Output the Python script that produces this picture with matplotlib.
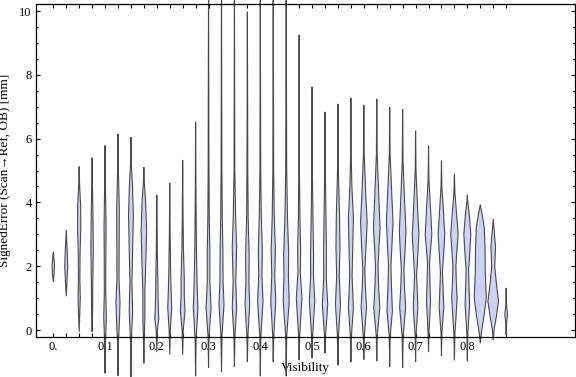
import matplotlib
matplotlib.use("Agg")
import matplotlib.pyplot as plt
import numpy as np

plt.rcParams['font.family'] = ['Liberation Serif', 'DejaVu Serif']

# Violin positions along the Visibility axis (one every 0.025)
positions = [0.025 * i for i in range(36)]

# Lowest / highest value of each violin (SignedError, mm)
lows = [1.52, 1.07, -0.05, -0.05, -1.35, -1.43, -1.47, -1.04, -0.68, -0.76,
        -0.77, -1.44, -1.18, -1.30, -1.15, -1.00, -1.44, -1.00, -1.44, -0.94,
        -0.88, -0.72, -1.10, -1.00, -0.92, -0.97, -1.15, -1.18, -0.99, -0.68,
        -0.81, -0.94, -0.97, -0.41, -0.31, -0.16]
highs = [2.45, 3.13, 5.12, 5.40, 5.78, 6.14, 6.04, 5.10, 4.23, 4.60,
         5.32, 6.52, 11.0, 11.0, 11.0, 9.97, 11.0, 11.0, 11.0, 9.25,
         7.62, 6.83, 7.08, 7.27, 7.05, 7.24, 6.98, 6.92, 6.24, 5.77,
         5.30, 4.89, 4.23, 3.92, 3.47, 1.31]

# Density profile of each violin: (value, relative density)
profiles = [
    [(1.75, 0.8), (2.0, 1.2), (2.2, 0.8)],
    [(1.4, 0.6), (2.0, 1.5), (2.5, 0.9)],
    [(0.5, 0.6), (1.0, 1.1), (1.6, 0.7), (2.4, 0.9), (3.2, 1.6), (3.9, 1.5), (4.5, 0.5)],
    [(0.6, 0.5), (1.5, 0.7), (2.6, 1.2), (3.5, 0.9), (4.5, 0.4)],
    [(-0.5, 0.3), (0.4, 1.3), (1.2, 0.7), (2.3, 0.8), (3.3, 1.0), (4.5, 0.4)],
    [(-0.4, 0.4), (0.4, 1.6), (0.9, 2.0), (1.6, 1.0), (2.8, 1.2), (3.8, 1.3), (5.0, 0.4)],
    [(-0.4, 0.4), (0.6, 1.7), (1.5, 1.0), (2.5, 1.7), (3.6, 2.4), (4.5, 1.6), (5.2, 0.4)],
    [(-0.3, 0.4), (0.4, 1.0), (1.2, 1.0), (2.2, 2.0), (3.1, 2.7), (4.0, 1.8), (4.6, 0.5)],
    [(0.0, 0.6), (0.35, 2.0), (0.8, 1.4), (1.4, 1.1), (2.5, 0.5), (3.5, 0.3)],
    [(0.0, 0.6), (0.7, 2.0), (1.2, 1.4), (2.0, 0.8), (3.0, 0.4)],
    [(0.0, 0.6), (0.6, 2.3), (1.1, 1.6), (1.6, 1.6), (2.5, 0.8), (3.5, 0.4)],
    [(-0.3, 0.5), (0.7, 2.3), (1.3, 1.6), (2.2, 1.0), (3.2, 0.6), (4.5, 0.3)],
    [(-0.2, 0.5), (0.7, 2.5), (1.5, 1.3), (2.5, 1.3), (3.5, 0.7), (5.0, 0.4)],
    [(-0.2, 0.5), (0.8, 2.5), (1.5, 1.6), (2.5, 1.4), (3.5, 0.8), (5.0, 0.4)],
    [(-0.2, 0.5), (0.7, 2.2), (1.5, 1.3), (2.6, 2.2), (3.5, 1.2), (5.0, 0.4)],
    [(-0.2, 0.5), (0.8, 2.3), (1.5, 1.5), (2.3, 1.8), (3.5, 0.8), (5.0, 0.4)],
    [(-0.2, 0.5), (0.9, 2.7), (1.7, 1.6), (2.5, 2.0), (3.6, 1.0), (5.0, 0.4)],
    [(-0.2, 0.5), (0.9, 2.5), (1.7, 1.5), (2.5, 2.1), (3.6, 1.0), (5.0, 0.4)],
    [(-0.2, 0.5), (0.9, 3.0), (1.7, 2.2), (2.4, 2.5), (3.5, 1.3), (5.0, 0.5)],
    [(-0.2, 0.5), (1.0, 2.8), (1.8, 1.2), (2.5, 1.5), (3.5, 0.8), (5.0, 0.3)],
    [(-0.2, 0.5), (0.9, 2.7), (1.7, 1.4), (2.4, 1.5), (3.5, 0.9), (5.0, 0.3)],
    [(-0.2, 0.5), (0.8, 2.7), (1.6, 1.3), (2.5, 1.4), (3.5, 1.0), (5.0, 0.3)],
    [(-0.2, 0.5), (0.8, 2.5), (1.7, 1.3), (2.6, 2.0), (3.6, 1.6), (5.0, 0.4)],
    [(-0.2, 0.5), (0.7, 2.5), (1.7, 1.2), (2.8, 2.0), (3.5, 2.5), (4.5, 1.0), (5.5, 0.3)],
    [(-0.2, 0.5), (0.7, 2.7), (1.4, 1.5), (1.9, 1.0), (2.6, 2.2), (3.4, 3.3), (4.2, 2.0), (5.5, 0.4)],
    [(-0.2, 0.5), (0.7, 3.0), (1.4, 1.8), (2.0, 1.3), (2.6, 2.2), (3.2, 3.3), (4.2, 2.0), (5.5, 0.4)],
    [(-0.2, 0.5), (0.6, 2.7), (1.3, 1.8), (2.0, 1.2), (2.7, 2.3), (3.4, 3.3), (4.3, 2.0), (5.5, 0.4)],
    [(-0.2, 0.5), (0.7, 3.0), (1.4, 1.8), (1.9, 1.3), (2.5, 2.4), (3.1, 3.3), (4.0, 2.0), (5.3, 0.4)],
    [(-0.2, 0.4), (0.7, 2.3), (1.3, 1.6), (1.7, 1.0), (2.4, 2.3), (3.0, 3.3), (3.8, 2.0), (5.0, 0.4)],
    [(-0.1, 0.4), (0.9, 2.0), (1.5, 1.4), (2.1, 1.0), (2.5, 2.0), (3.0, 3.3), (3.8, 2.0), (4.7, 0.4)],
    [(-0.1, 0.4), (0.7, 2.3), (1.3, 1.6), (1.8, 1.0), (2.4, 2.2), (3.0, 3.3), (3.8, 1.8), (4.5, 0.4)],
    [(-0.1, 0.5), (0.3, 1.4), (1.0, 2.7), (1.6, 1.8), (2.0, 1.5), (2.5, 2.5), (3.0, 3.7), (3.7, 2.0), (4.3, 0.5)],
    [(-0.1, 0.5), (0.8, 2.3), (1.4, 1.6), (1.9, 1.3), (2.4, 2.4), (3.0, 3.5), (3.6, 2.0), (4.0, 0.5)],
    [(-0.1, 1.0), (0.5, 4.0), (1.0, 6.0), (1.8, 5.0), (2.6, 4.7), (3.2, 4.0), (3.6, 2.0)],
    [(0.0, 0.8), (0.4, 3.0), (0.9, 5.3), (1.5, 3.0), (2.0, 1.5), (2.6, 2.3), (3.1, 1.0)],
    [(0.2, 0.4), (0.5, 1.3), (0.8, 0.4)],
]

x_tick_values = [0.0, 0.1, 0.2, 0.3, 0.4, 0.5, 0.6, 0.7, 0.8]
x_tick_labels = ['0.', '0.1', '0.2', '0.3', '0.4', '0.5', '0.6', '0.7', '0.8']
y_tick_values = [0, 2, 4, 6, 8, 10]

DENSITY_SCALE = 1 / 517.0   # relative density -> visibility units
FILL = '#cbd2f4'
EDGE = '#4a4a4a'


def violin_polygon(pos, low, high, profile):
    """Builds the closed outline of one violin from its profile."""
    vals = [low] + [p[0] for p in profile] + [high]
    dens = [0.0] + [p[1] for p in profile] + [0.0]
    half = np.array(dens) * DENSITY_SCALE
    xs = np.concatenate([pos + half, (pos - half)[::-1]])
    ys = np.concatenate([vals, vals[::-1]])
    return xs, ys


fig = plt.figure(figsize=(5.76, 3.77), dpi=100)
ax = fig.add_axes([36 / 576, 40 / 377, 539 / 576, 333 / 377])

for pos, lo, hi, prof in zip(positions, lows, highs, profiles):
    xs, ys = violin_polygon(pos, lo, hi, prof)
    ax.fill(xs, ys, facecolor=FILL, edgecolor=EDGE, linewidth=0.8,
            joinstyle='round', clip_on=False, zorder=2)

ax.set_xlim(-0.0334, 1.008)
ax.set_ylim(-0.219, 10.22)

# Frame ticks: violin positions on top/bottom, 0.5 steps on the sides
ax.set_xticks(x_tick_values)
ax.set_xticklabels(x_tick_labels)
ax.set_xticks(positions, minor=True)
ax.set_yticks(y_tick_values)
ax.set_yticks(np.arange(0, 10.01, 0.5), minor=True)

ax.tick_params(axis='both', which='both', direction='in', top=True, right=True,
               labelsize=9, colors='black', width=0.8, pad=3)
ax.tick_params(axis='x', which='major', length=3)
ax.tick_params(axis='x', which='minor', length=3)
ax.tick_params(axis='y', which='major', length=3.2)
ax.tick_params(axis='y', which='minor', length=1.6)
for spine in ax.spines.values():
    spine.set_linewidth(0.9)
    spine.set_zorder(3)

ax.set_xlabel('Visibility', fontsize=9.5, labelpad=6)
ax.set_ylabel('SignedError (Scan\u2192Ref, OB) [mm]', fontsize=9.5, labelpad=6)

fig.savefig('out.png', dpi=100)
